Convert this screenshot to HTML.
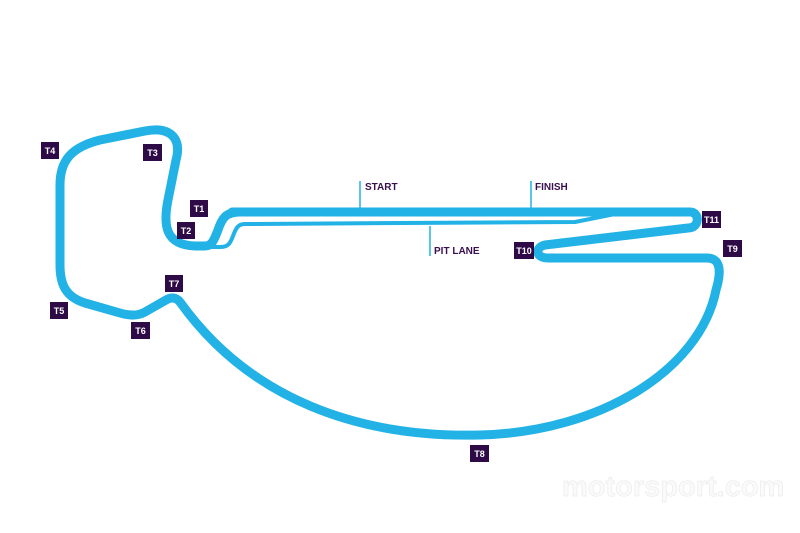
<!DOCTYPE html>
<html><head><meta charset="utf-8"><style>
html,body{margin:0;padding:0;background:#fff;}
svg{display:block}
text{font-family:"Liberation Sans",sans-serif;font-weight:bold}
</style></head><body>
<svg width="800" height="533" viewBox="0 0 800 533" xmlns="http://www.w3.org/2000/svg">
<g fill="none" stroke="#22b2e6" stroke-linecap="round" stroke-linejoin="round">
<path stroke-width="9" d="M232,212 L690,212 C700,212 700,228 688,228 L545,245 C535,247 535,258 548,258 L707,258 C720,258 722,270 716,290 C700,370 600,432 480,435 C360,438 250,400 180,302 C176,297 171,297 166,300 L145,312 C138,316 130,316 120,313 L85,303 C66,297 60,285 60,265 L60,185 C60,160 72,147 100,140 L145,131 C170,126 182,138 176,160 L168,200 C163,225 165,245 195,246 L205,246 C212,246 214,240 218,230 C222,218 226,212 240,212"/>
<path stroke-width="4" d="M625,212 L575,222 L245,224 C238,224 236,228 233,236 C230,244 228,247 220,247 L190,247"/>
</g>
<g stroke="#22b2e6" stroke-width="1.5">
<line x1="360" y1="181" x2="360" y2="209"/>
<line x1="531" y1="181" x2="531" y2="209"/>
<line x1="430" y1="226" x2="430" y2="256"/>
</g>
<g font-size="10" fill="#3a0f4f">
<text x="365" y="190">START</text>
<text x="535" y="190">FINISH</text>
<text x="434" y="254">PIT LANE</text>
</g>
<g fill="#2e0b47">
<rect x="41" y="142" width="18" height="17"/>
<rect x="143" y="144" width="19" height="17"/>
<rect x="190" y="200" width="18" height="17"/>
<rect x="177" y="222" width="18" height="17"/>
<rect x="165" y="275" width="18" height="17"/>
<rect x="50" y="302" width="18" height="17"/>
<rect x="131" y="322" width="19" height="17"/>
<rect x="514" y="242" width="20" height="17"/>
<rect x="702" y="211" width="19" height="17"/>
<rect x="723" y="240" width="19" height="17"/>
<rect x="470" y="445" width="19" height="17"/>
</g>
<g font-size="9" fill="#fff" text-anchor="middle">
<text x="50" y="154">T4</text>
<text x="152.5" y="156">T3</text>
<text x="199" y="212">T1</text>
<text x="186" y="234">T2</text>
<text x="174" y="287">T7</text>
<text x="59" y="314">T5</text>
<text x="140.5" y="334">T6</text>
<text x="524" y="254">T10</text>
<text x="711.5" y="223">T11</text>
<text x="732.5" y="252">T9</text>
<text x="479.5" y="457">T8</text>
</g>
<text x="562" y="496" font-size="29" fill="#fafafa" stroke="#ececec" stroke-width="0.7">motorsport.com</text>
</svg>
</body></html>
